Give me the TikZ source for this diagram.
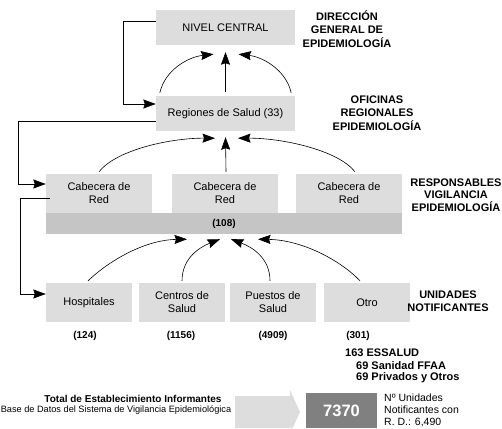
\documentclass[tikz,border=0pt]{standalone}
\usepackage{fontspec}
\setmainfont{Liberation Sans}
\usetikzlibrary{arrows.meta,calc}
\definecolor{boxgray}{RGB}{221,221,221}
\definecolor{bargray}{RGB}{197,197,197}
\definecolor{darkbox}{RGB}{128,128,128}
\begin{document}
\begin{tikzpicture}[x=1pt,y=-1pt,
  box/.style={fill=boxgray, inner sep=0pt, align=center, font=\fontsize{11}{13}\selectfont},
  cab/.style={box, minimum width=106pt, minimum height=39pt},
  unit/.style={box, minimum width=86pt, minimum height=39pt},
  lbl/.style={font=\bfseries\fontsize{11}{13.5}\selectfont, align=center, inner sep=0pt},
  lbls/.style={font=\bfseries\fontsize{11}{12.5}\selectfont, align=center, inner sep=0pt},
  cnt/.style={font=\bfseries\fontsize{10}{12}\selectfont, inner sep=0pt},
  oth/.style={font=\bfseries\fontsize{11}{13}\selectfont, inner sep=0pt, anchor=west},
  conn/.style={line width=0.6pt, -{Stealth[length=12.5pt,width=9pt,inset=1.5pt]}},
  elbow/.style={line width=0.6pt, -{Stealth[length=12.5pt,width=9pt,inset=1.5pt]}}
]
\useasboundingbox (0,0) rectangle (502,428);

% level nodes
\node[box, minimum width=139pt, minimum height=35pt] (nc) at (225.5,27.5) {NIVEL CENTRAL};
\node[box, minimum width=139pt, minimum height=35pt] (rs) at (225.5,113.5) {Regiones de Salud (33)};
\node[fill=bargray, minimum width=356pt, minimum height=21pt, inner sep=0pt, font=\bfseries\fontsize{10}{12}\selectfont] (bar) at (224,223.5) {(108)};
\node[cab] (c1) at (99,193.5) {Cabecera de\\Red};
\node[cab] (c2) at (225,193.5) {Cabecera de\\Red};
\node[cab] (c3) at (349,193.5) {Cabecera de\\Red};
\node[unit] (h1) at (89,302.5) {Hospitales};
\node[unit] (h2) at (182,302.5) {Centros de\\Salud};
\node[unit] (h3) at (273,302.5) {Puestos de\\Salud};
\node[unit] (h4) at (367,302.5) {Otro};

% right labels
\node[lbl] (l1) at (347,29) {DIRECCIÓN\\GENERAL DE\\EPIDEMIOLOGÍA};
\node[lbl] (l2) at (377,113) {OFICINAS\\REGIONALES\\EPIDEMIOLOGÍA};
\node[lbls] (l3) at (456,195) {RESPONSABLES\\VIGILANCIA\\EPIDEMIOLOGÍA};
\node[lbls] (l4) at (448,301) {UNIDADES\\NOTIFICANTES};

% counts
\node[cnt] (n1) at (85,336) {(124)};
\node[cnt] (n2) at (181,336) {(1156)};
\node[cnt] (n3) at (273,336) {(4909)};
\node[cnt] (n4) at (358,336) {(301)};
\node[oth] (o1) at (345,353) {163 ESSALUD};
\node[oth] (o2) at (356,366) {69 Sanidad FFAA};
\node[oth] (o3) at (356,378) {69 Privados y Otros};

% arrows to nivel central
\draw[conn] ($(rs.north west)+(4,-3)$) .. controls (165,70) and (188,57) .. ($(nc.south)+(-12,9)$);
\draw[conn] ($(rs.north)+(0,-4)$) -- ($(nc.south)+(0,7)$);
\draw[conn] ($(rs.north east)+(-4,-3)$) .. controls (286,70) and (263,57) .. ($(nc.south)+(13,9)$);

% arrows to regiones
\draw[conn] ($(c1.north)+(0,-2)$) .. controls (116,150) and (170,138) .. ($(rs.south)+(-10.5,7)$);
\draw[conn] ($(c2.north)+(1,-2)$) -- ($(rs.south)+(0,6)$);
\draw[conn] ($(c3.north)+(6,-2)$) .. controls (338,150) and (282,138) .. ($(rs.south)+(12.5,7)$);

% arrows to bar
\draw[conn] ($(h1.north)+(-1,-2)$) .. controls (110,260) and (145,240) .. ($(bar.south)+(-37,5)$);
\draw[conn] ($(h2.north)+(0,-2)$) .. controls (182,258) and (200,247) .. ($(bar.south)+(-4,5)$);
\draw[conn] ($(h3.north)+(-3,-2)$) .. controls (270,258) and (252,247) .. ($(bar.south)+(7,5)$);
\draw[conn] ($(h4.north)+(-7,-2)$) .. controls (340,260) and (302,240) .. ($(bar.south)+(34,5)$);

% elbow connectors
\draw[elbow] ($(nc.west)+(0,-6.5)$) -- ++(-33,0) |- ($(rs.west)+(0,-9.5)$);
\draw[elbow] ($(rs.west)+(0,7.5)$) -- ++(-138,0) |- ($(c1.west)+(0,-9.5)$);
\draw[elbow] ($(c1.west)+(4,4.5)$) -- ++(-30,0) |- ($(h1.west)+(0,-8.5)$);

% bottom summary
\node[font=\bfseries\fontsize{10}{12}\selectfont, inner sep=0pt] (tot) at (133,399) {Total de Establecimiento Informantes};
\node[font=\fontsize{9.2}{11}\selectfont, inner sep=0pt] (base) at (116,410.5) {Base de Datos del Sistema de Vigilancia Epidemiológica};
\fill[boxgray] (235,396) -- (290,396) -- (290,390) -- (300,412) -- (292.7,428) -- (235,428) -- cycle;
\node[fill=darkbox, minimum width=71pt, minimum height=35pt, inner sep=0pt, text=white, font=\bfseries\fontsize{16.5}{18}\selectfont] (total) at (341.5,410.5) {7370};
\node[anchor=west, align=left, inner sep=0pt, font=\fontsize{10.5}{12}\selectfont] (rd) at (384,410.5) {Nº Unidades\\Notificantes con\\R. D.: 6,490};
\end{tikzpicture}
\end{document}
